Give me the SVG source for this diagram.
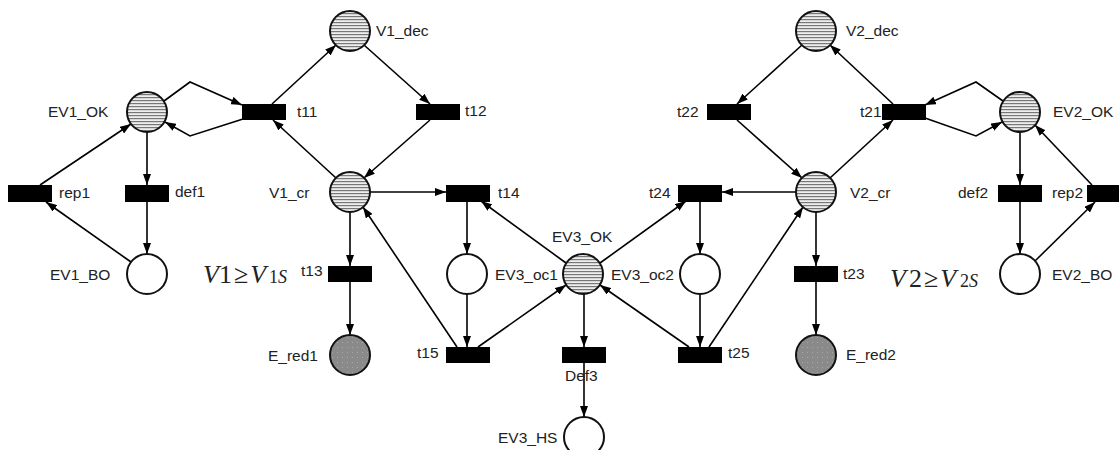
<svg xmlns="http://www.w3.org/2000/svg" width="1119" height="450" viewBox="0 0 1119 450">
<style>
.c{fill:none;stroke:#000;stroke-width:1.6;marker-end:url(#ah)}
.p{stroke:#111;stroke-width:2}
.h{fill:url(#hatch)}
.e{fill:#fff}
.r{fill:url(#dots)}
.t{fill:#000}
text{font-family:"Liberation Sans",Arial,sans-serif;font-size:15.5px;fill:#222}
.m{font-family:"Liberation Serif","Times New Roman",serif;font-size:26px;fill:#222}
</style>
<defs>
<marker id="ah" markerUnits="userSpaceOnUse" markerWidth="11" markerHeight="8" refX="11" refY="4" orient="auto"><path d="M0,0 L11,4 L0,8 z" fill="#000"/></marker>
<pattern id="hatch" patternUnits="userSpaceOnUse" width="6" height="3"><rect width="6" height="3" fill="#eeeeee"/><rect y="1" width="6" height="1.2" fill="#777"/></pattern>
<pattern id="dots" patternUnits="userSpaceOnUse" width="5" height="5"><rect width="5" height="5" fill="#8a8a8a"/><rect x="2" y="2" width="1" height="1" fill="#a8a8a8"/></pattern>
</defs>
<g id="connectors">
<path class="c" d="M164,101 L190,82 L242,105"/>
<path class="c" d="M243,119 L190,136 L165,122"/>
<path class="c" d="M272,104 L336,45"/>
<path class="c" d="M336,178 L273,120"/>
<path class="c" d="M364,45 L430,104"/>
<path class="c" d="M430,120 L364,178"/>
<path class="c" d="M370,192 L446,192"/>
<path class="c" d="M467,201 L467,254"/>
<path class="c" d="M566,263 L481,201"/>
<path class="c" d="M467,294 L467,347"/>
<path class="c" d="M478,347 L566,285"/>
<path class="c" d="M457,347 L363,207"/>
<path class="c" d="M350,212 L350,266"/>
<path class="c" d="M350,282 L350,335"/>
<path class="c" d="M147,132 L147,185"/>
<path class="c" d="M147,201 L147,254"/>
<path class="c" d="M131,262 L46,202"/>
<path class="c" d="M40,185 L131,124"/>
<path class="c" d="M584,294 L584,347"/>
<path class="c" d="M584,363 L584,417"/>
<path class="c" d="M600,263 L686,201"/>
<path class="c" d="M796,192 L722,192"/>
<path class="c" d="M700,201 L700,254"/>
<path class="c" d="M700,294 L700,347"/>
<path class="c" d="M689,347 L600,285"/>
<path class="c" d="M709,347 L803,207"/>
<path class="c" d="M816,212 L816,266"/>
<path class="c" d="M816,282 L816,335"/>
<path class="c" d="M802,45 L737,104"/>
<path class="c" d="M737,120 L802,178"/>
<path class="c" d="M830,178 L893,120"/>
<path class="c" d="M893,104 L830,45"/>
<path class="c" d="M1003,101 L976,82 L925,105"/>
<path class="c" d="M925,118 L976,136 L1002,122"/>
<path class="c" d="M1020,132 L1020,185"/>
<path class="c" d="M1020,201 L1020,254"/>
<path class="c" d="M1035,261 L1095,202"/>
<path class="c" d="M1092,185 L1035,125"/>
</g>
<g id="EV1_OK"><circle class="p h" cx="147" cy="112" r="20"/><text x="48" y="117">EV1_OK</text></g>
<g id="V1_dec"><circle class="p h" cx="350" cy="31" r="20"/><text x="376" y="36">V1_dec</text></g>
<g id="V1_cr"><circle class="p h" cx="350" cy="192" r="20"/><text x="269" y="198">V1_cr</text></g>
<g id="EV1_BO"><circle class="p e" cx="147" cy="274" r="20"/><text x="50" y="280">EV1_BO</text></g>
<g id="E_red1"><circle class="p r" cx="350" cy="355" r="20"/><text x="268" y="361">E_red1</text></g>
<g id="EV3_oc1"><circle class="p e" cx="467" cy="274" r="20"/><text x="495" y="280">EV3_oc1</text></g>
<g id="EV3_OK"><circle class="p h" cx="583" cy="274" r="20"/><text x="552" y="242">EV3_OK</text></g>
<g id="EV3_oc2"><circle class="p e" cx="700" cy="274" r="20"/><text x="611" y="280">EV3_oc2</text></g>
<g id="EV3_HS"><circle class="p e" cx="584" cy="437" r="20"/><text x="498" y="443">EV3_HS</text></g>
<g id="V2_dec"><circle class="p h" cx="816" cy="31" r="20"/><text x="846" y="36">V2_dec</text></g>
<g id="V2_cr"><circle class="p h" cx="816" cy="192" r="20"/><text x="850" y="198">V2_cr</text></g>
<g id="EV2_OK"><circle class="p h" cx="1020" cy="112" r="20"/><text x="1053" y="117">EV2_OK</text></g>
<g id="EV2_BO"><circle class="p e" cx="1020" cy="274" r="20"/><text x="1052" y="280">EV2_BO</text></g>
<g id="E_red2"><circle class="p r" cx="816" cy="355" r="20"/><text x="846" y="360">E_red2</text></g>
<g id="t11"><rect class="t" x="242" y="104" width="44" height="16"/><text x="297" y="117">t11</text></g>
<g id="t12"><rect class="t" x="416" y="104" width="44" height="16"/><text x="465" y="116">t12</text></g>
<g id="t22"><rect class="t" x="707" y="104" width="44" height="16"/><text x="677" y="117">t22</text></g>
<g id="t21"><rect class="t" x="882" y="104" width="44" height="16"/><text x="860" y="117">t21</text></g>
<g id="rep1"><rect class="t" x="8" y="185" width="44" height="17"/><text x="59" y="198">rep1</text></g>
<g id="def1"><rect class="t" x="125" y="185" width="44" height="17"/><text x="175" y="197">def1</text></g>
<g id="t14"><rect class="t" x="446" y="185" width="44" height="17"/><text x="498" y="198">t14</text></g>
<g id="t24"><rect class="t" x="678" y="185" width="44" height="17"/><text x="649" y="198">t24</text></g>
<g id="def2"><rect class="t" x="998" y="185" width="44" height="17"/><text x="958" y="198">def2</text></g>
<g id="rep2"><rect class="t" x="1087" y="185" width="44" height="17"/><text x="1052" y="198">rep2</text></g>
<g id="t13"><rect class="t" x="328" y="266" width="44" height="16"/><text x="301" y="276">t13</text></g>
<g id="t23"><rect class="t" x="794" y="266" width="44" height="16"/><text x="843" y="279">t23</text></g>
<g id="t15"><rect class="t" x="446" y="347" width="44" height="16"/><text x="417" y="358">t15</text></g>
<g id="Def3"><rect class="t" x="562" y="347" width="44" height="16"/><text x="565" y="381">Def3</text></g>
<g id="t25"><rect class="t" x="678" y="347" width="44" height="16"/><text x="728" y="358">t25</text></g>
<text class="m" x="203" y="283"><tspan font-style="italic">V</tspan>1<tspan dx="2">≥</tspan><tspan dx="2" font-style="italic">V</tspan><tspan dx="3" font-size="18">1</tspan><tspan font-size="18" font-style="italic">S</tspan></text>
<text class="m" x="890" y="287"><tspan font-style="italic">V</tspan><tspan dx="3">2</tspan><tspan dx="2">≥</tspan><tspan dx="2" font-style="italic">V</tspan><tspan dx="4" font-size="18">2</tspan><tspan font-size="18" font-style="italic">S</tspan></text>
</svg>
